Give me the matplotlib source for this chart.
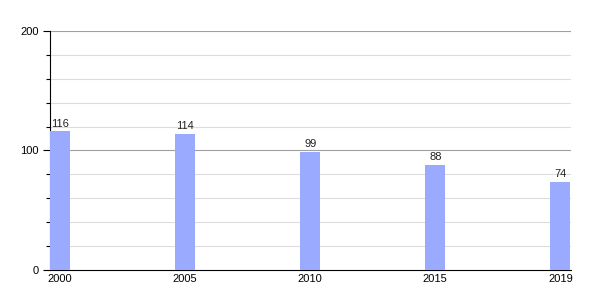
import matplotlib
matplotlib.use("Agg")
import matplotlib.pyplot as plt
import numpy as np

plt.rcParams["font.family"] = ["Liberation Sans", "DejaVu Sans"]

years = ["2000", "2005", "2010", "2015", "2019"]
values = [116, 114, 99, 88, 74]

fig = plt.figure(figsize=(6, 3), dpi=100)
ax = fig.add_axes([0.0833, 0.1, 0.8684, 0.7967])

x = np.arange(len(years))
bar_w = 0.16
ax.bar(x, values, width=bar_w, color="#99aaff", zorder=3)
for xi, v in zip(x, values):
    ax.text(xi, v + 2, str(v), ha="center", va="bottom", fontsize=8, color="#222222")

ax.set_xlim(-bar_w / 2, 4 + bar_w / 2 + 0.005)
ax.set_ylim(0, 200)
ax.set_xticks(x)
ax.set_xticklabels(years, fontsize=8)
ax.set_yticks([0, 100, 200])
ax.set_yticklabels(["0", "100", "200"], fontsize=8)
ax.set_yticks(np.arange(20, 200, 20), minor=True)

# grid lines
for y in np.arange(20, 200, 20):
    if y % 100:
        ax.axhline(y, color="#dddddd", lw=0.8, zorder=1)
for y in [100, 200]:
    ax.axhline(y, color="#a0a0a0", lw=0.8, zorder=1)

ax.tick_params(axis="x", length=0, pad=3)
ax.tick_params(axis="y", which="major", length=5, width=0.8, pad=3)
ax.tick_params(axis="y", which="minor", length=3, width=0.8)
for s in ["top", "right"]:
    ax.spines[s].set_visible(False)
ax.spines["left"].set_linewidth(0.8)
ax.spines["bottom"].set_linewidth(0.8)

fig.savefig("out.png", dpi=100)
